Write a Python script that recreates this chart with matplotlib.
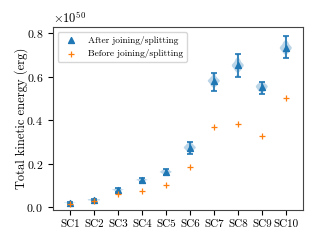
import matplotlib
matplotlib.use("Agg")
import matplotlib.pyplot as plt
import numpy as np

plt.rcParams['font.family'] = 'serif'
plt.rcParams['font.serif'] = ['cmr10']
plt.rcParams['mathtext.fontset'] = 'cm'
plt.rcParams['axes.unicode_minus'] = False
plt.rcParams['axes.formatter.use_mathtext'] = True

categories = ['SC1', 'SC2', 'SC3', 'SC4', 'SC5', 'SC6', 'SC7', 'SC8', 'SC9', 'SC10']

# after joining/splitting: sample values (units of 1e50 erg)
after_samples = [
    [0.017, 0.019, 0.020, 0.0205, 0.021, 0.0215, 0.022, 0.023, 0.025],
    [0.030, 0.032, 0.033, 0.034, 0.035, 0.036, 0.037, 0.038, 0.040],
    [0.072, 0.076, 0.078, 0.080, 0.081, 0.082, 0.084, 0.086, 0.089],
    [0.118, 0.121, 0.123, 0.125, 0.126, 0.127, 0.129, 0.130, 0.133],
    [0.149, 0.155, 0.158, 0.161, 0.163, 0.165, 0.168, 0.171, 0.178],
    [0.246, 0.259, 0.266, 0.271, 0.275, 0.279, 0.284, 0.291, 0.302],
    [0.535, 0.558, 0.567, 0.575, 0.580, 0.584, 0.590, 0.599, 0.615],
    [0.601, 0.628, 0.639, 0.647, 0.652, 0.657, 0.665, 0.678, 0.705],
    [0.521, 0.535, 0.542, 0.548, 0.553, 0.557, 0.562, 0.568, 0.578],
    [0.685, 0.711, 0.721, 0.728, 0.733, 0.738, 0.746, 0.758, 0.787],
]
after_mean = [0.021, 0.035, 0.081, 0.126, 0.163, 0.275, 0.580, 0.652, 0.553, 0.733]
before = [0.017, 0.028, 0.060, 0.075, 0.102, 0.186, 0.371, 0.383, 0.326, 0.501]
yticks = [0.0, 0.2, 0.4, 0.6, 0.8]

scale = 1e50
positions = np.arange(1, len(categories) + 1)

fig, ax = plt.subplots(figsize=(3.2, 2.4), dpi=100)
fig.subplots_adjust(left=0.165, right=0.947, top=0.887, bottom=0.125)

data = [np.array(s) * scale for s in after_samples]
vp = ax.violinplot(data, positions=positions, widths=0.5, showextrema=True,
                   bw_method=0.25)
for b in vp['bodies']:
    b.set_facecolor('C0')
    b.set_alpha(0.3)
    b.set_edgecolor('none')
for k in ('cbars', 'cmins', 'cmaxes'):
    vp[k].set_color('C0')
    vp[k].set_linewidth(1.2)

ax.scatter(positions, np.array(after_mean) * scale, marker='^', color='C0', s=18,
           zorder=3, label='After joining/splitting')
ax.scatter(positions, np.array(before) * scale, marker='+', color='C1', s=18,
           linewidths=0.9, zorder=3, label='Before joining/splitting')

ax.set_xticks(positions)
ax.set_xticklabels(categories)
ax.set_yticks(np.array(yticks) * scale)
ax.ticklabel_format(axis='y', style='sci', scilimits=(50, 50))
ax.set_ylabel('Total kinetic energy (erg)', fontsize=9)
ax.yaxis.set_label_coords(-0.10, 0.5)
ax.tick_params(axis='x', labelsize=8)
ax.tick_params(axis='y', labelsize=8.5)
ax.yaxis.get_offset_text().set_fontsize(9)
ax.set_ylim(-0.012e50, 0.828e50)
ax.set_xlim(0.29, 10.72)
for sp in ax.spines.values():
    sp.set_color('#444444')
ax.legend(loc='upper left', fontsize=6.8)

fig.savefig('out.png')
